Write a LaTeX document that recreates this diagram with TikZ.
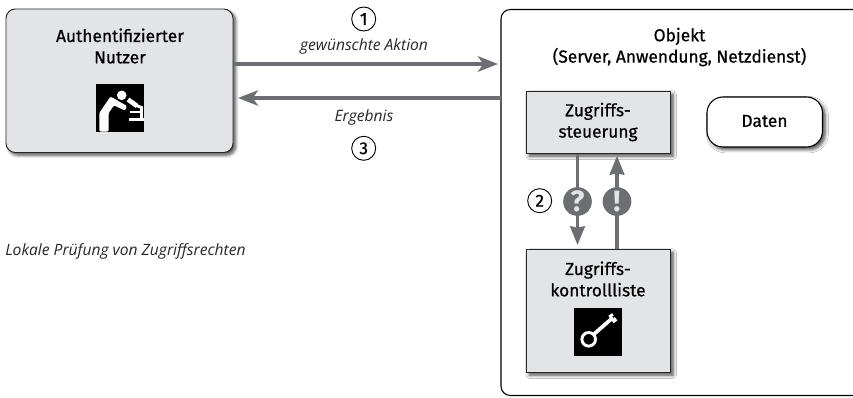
\documentclass[tikz,border=0pt]{standalone}
\usepackage{fontspec}
\setmainfont{Open Sans}
\newfontfamily\din[FakeBold=0.6]{Fira Sans}
\newfontfamily\badgefont{Fira Sans}
\usetikzlibrary{shadows.blur,arrows.meta,shapes.geometric}
\definecolor{boxgray}{HTML}{E3E4E6}
\definecolor{linegray}{HTML}{6D6E71}
\tikzset{
 x=0.75pt,y=-0.75pt,
 softshadow/.style={blur shadow={shadow xshift=2pt,shadow yshift=-2pt,shadow blur steps=6,shadow blur radius=2.4pt,shadow opacity=70}},
 graybox/.style={draw=black!85,line width=0.7pt,fill=boxgray,softshadow},
 flow/.style={draw=linegray,line width=2.9pt,-{Stealth[length=15pt,width=11.5pt,inset=4pt]}},
 flowthin/.style={draw=linegray,line width=2.5pt,-{Stealth[length=14pt,width=11pt,inset=1pt]}},
 lab/.style={font=\din\fontsize{13pt}{16pt}\selectfont,align=center,text=black},
 ital/.style={font=\itshape\fontsize{11.7pt}{13pt}\selectfont,text=black!85},
 num/.style={circle,draw=black,line width=0.7pt,minimum size=18pt,inner sep=0pt,font=\din\fontsize{13pt}{13pt}\selectfont},
 badge/.style={circle,fill=linegray,minimum size=21.5pt,inner sep=0pt,text=boxgray,font=\badgefont\fontsize{22pt}{22pt}\selectfont\bfseries},
 iconbox/.style={fill=black,minimum size=36pt,inner sep=0pt},
 icon/.style={draw=white,line width=2.2pt},
}
\begin{document}
\begin{tikzpicture}
\useasboundingbox (0,0) rectangle (853,397);
\path[graybox,rounded corners=7pt] (6,9) rectangle (233,152.5);
\coordinate (userR1) at (234,64);
\coordinate (userR2) at (238,98);
\path[draw=black,line width=0.8pt,fill=white,rounded corners=7pt] (501,9.5) rectangle (862,395.5);
\coordinate (objL1) at (498,64);
\coordinate (objL2) at (501,98);
\node[lab] (user) at (120,46) {Authentifizierter\\Nutzer};
\node[lab] (obj) at (679.5,47) {Objekt\\(Server, Anwendung, Netzdienst)};
\node[graybox,minimum width=108pt,minimum height=46.5pt,inner sep=0pt,anchor=north west] (ctl) at (526,91) {};
\node[graybox,minimum width=108pt,minimum height=92.25pt,inner sep=0pt,anchor=north west] (acl) at (526,249) {};
\node[lab] at (598,122) {Zugriffs-\\steuerung};
\node[lab] at (598,279) {Zugriffs-\\kontrollliste};
\draw[fill=white,draw=black,line width=0.8pt,rounded corners=12pt,softshadow] (707,97) rectangle (822.5,147);
\node[lab] (daten) at (764.5,121) {Daten};
\node[iconbox] (usericon) at (120,107.5) {};
\fill[white,rounded corners=1pt] (99.3,131.5) -- (99.3,113) -- (110.5,96.5) -- (127,106) -- (125,110.7) -- (114,105.3) -- (108.7,113) -- (108.7,131.5) -- cycle;
\fill[white] (121.7,95.3) circle (4.8);
\draw[icon,line width=3.5pt] (128,99.5) -- (137,106);
\draw[icon] (135,105) -- (141.5,107.5) -- (141.5,120);
\draw[icon] (130,112) -- (141,112);
\draw[icon,line width=2.5pt] (128.5,119.5) -- (143.5,119.5);
\node[iconbox] (keyicon) at (598,332) {};
\draw[icon] (588.7,339.3) circle (6.8);
\draw[icon,line width=2.8pt] (593.5,334.5) -- (613,317.5);
\draw[icon,line width=3.5pt] (610.2,314.5) -- (611.8,316.8);
\draw[icon,line width=3.5pt] (613,318.5) -- (615.5,321.8);
\draw[flow] (userR1) -- (objL1);
\draw[flow] (objL2) -- (userR2);
\node[num] (n1) at (363.7,19) {1};
\node[ital] (act) at (364,46.5) {gewünschte Aktion};
\node[ital] (erg) at (364,117.5) {Ergebnis};
\node[num] (n3) at (363.7,148.3) {3};
\coordinate (qe) at (577.5,245);
\coordinate (es) at (617,249);
\coordinate (ee) at (617,156);
\draw[flowthin] (ctl.south -| qe) -- (qe);
\draw[flowthin] (acl.north -| es) -- (ee);
\node[badge] (q) at (577.5,201.5) {?};
\node[badge] (e) at (617,201.5) {!};
\node[num] (n2) at (539.7,200.7) {2};
\node[ital,anchor=west,inner sep=0pt] (cap) at (5,251) {Lokale Prüfung von Zugriffsrechten};
\end{tikzpicture}
\end{document}
